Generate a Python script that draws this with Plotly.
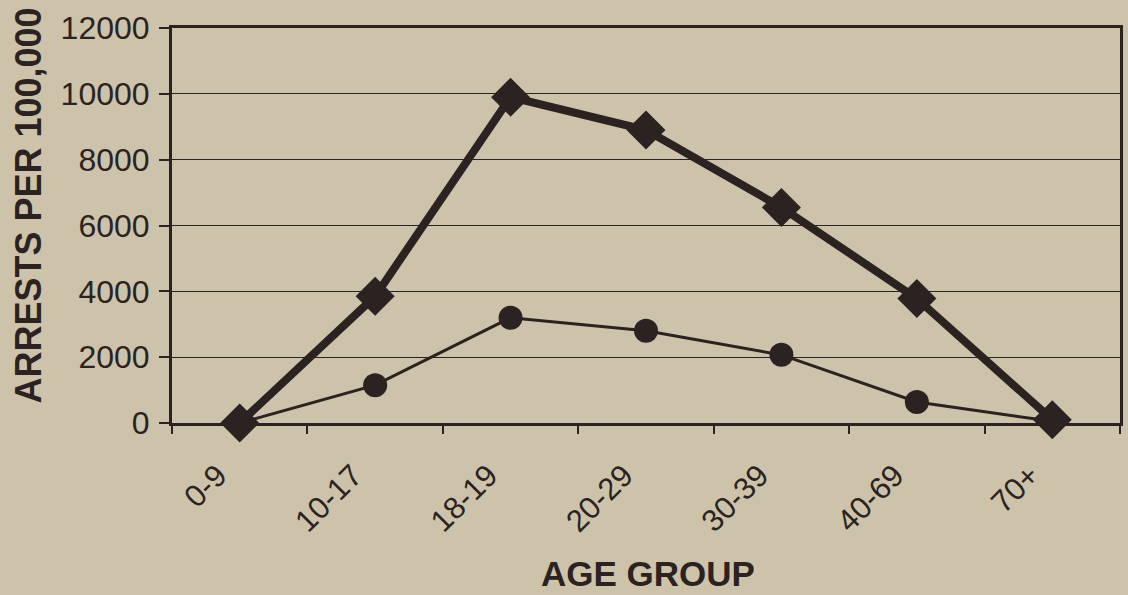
import plotly.graph_objects as go

# Arrest rates per 100,000 by age group
age_groups = ["0-9", "10-17", "18-19", "20-29", "30-39", "40-69", "70+"]
series_high = [0, 3850, 9900, 8900, 6550, 3780, 100]
series_low = [0, 1150, 3200, 2800, 2070, 640, 50]
y_ticks = [0, 2000, 4000, 6000, 8000, 10000, 12000]
y_tick_text = ["0", "2000", "4000", "6000", "8000", "10000", "12000"]

ink = "#2b2321"
bg = "#CDC3AA"
font_family = "Liberation Sans, Arial, sans-serif"

fig = go.Figure()

fig.add_trace(go.Scatter(
    x=age_groups, y=series_low, mode="lines+markers",
    line=dict(color=ink, width=3),
    marker=dict(symbol="circle", size=24, color=ink),
    cliponaxis=False, showlegend=False,
))
fig.add_trace(go.Scatter(
    x=age_groups, y=series_high, mode="lines+markers",
    line=dict(color=ink, width=8),
    marker=dict(symbol="diamond", size=30, color=ink),
    cliponaxis=False, showlegend=False,
))

fig.update_layout(
    width=1128, height=595, autosize=False,
    margin=dict(l=172, r=5, t=28, b=172),
    paper_bgcolor=bg, plot_bgcolor=bg,
    font=dict(family=font_family, color=ink),
    xaxis=dict(
        type="category", range=[-0.5, 6.5],
        tickson="boundaries", ticks="outside", ticklen=8, tickwidth=1.5,
        tickcolor=ink, tickangle=-45,
        tickfont=dict(size=31, color=ink),
        ticklabelshift=-22, ticklabelstandoff=19,
        showgrid=False, showline=True, linecolor=ink, linewidth=3,
        mirror=True,
    ),
    yaxis=dict(
        range=[0, 12000], tickvals=y_ticks, ticktext=y_tick_text,
        ticks="outside", ticklen=10, tickwidth=1.5, tickcolor=ink,
        tickfont=dict(size=32, color=ink), ticklabelstandoff=3,
        showgrid=True, gridcolor=ink, gridwidth=1.2,
        showline=True, linecolor=ink, linewidth=3, mirror=True,
        zeroline=False,
    ),
    annotations=[
        dict(
            text="<b>ARRESTS PER 100,000</b>", textangle=-90,
            xref="paper", yref="paper", x=-0.151, y=0.55,
            xanchor="center", yanchor="middle", showarrow=False,
            font=dict(size=36, color=ink),
        ),
        dict(
            text="<b>AGE GROUP</b>",
            xref="paper", yref="paper", x=0.502, y=-0.38,
            xanchor="center", yanchor="middle", showarrow=False,
            font=dict(size=35, color=ink),
        ),
    ],
)

fig.write_html("out.html")
